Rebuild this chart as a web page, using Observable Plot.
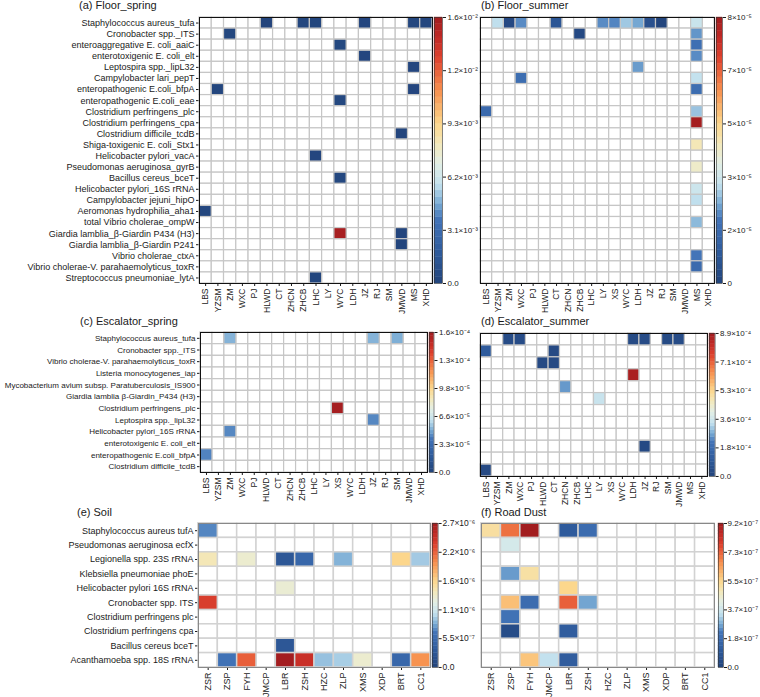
<!DOCTYPE html>
<html>
<head>
<meta charset="utf-8">
<script src="https://cdn.jsdelivr.net/npm/d3@7"></script>
<script src="https://cdn.jsdelivr.net/npm/@observablehq/plot@0.6"></script>
<style>
  body { margin: 0; background: white; }
  #chart { position: relative; width: 760px; height: 697px; overflow: hidden; background: white;
           font-family: "Liberation Sans", Arial, sans-serif; }
  #chart svg { position: absolute; }
  .ttl { position: absolute; font-size: 11px; line-height: 11px; color: #1a1a1a; white-space: nowrap; }
</style>
</head>
<body>
<div id="chart"></div>
<script>
// ---------- categories ----------
const floorRows = ["Staphylococcus aureus_tufa","Cronobacter spp._ITS","enteroaggregative E. coli_aaiC","enterotoxigenic E. coli_elt","Leptospira spp._lipL32","Campylobacter lari_pepT","enteropathogenic E.coli_bfpA","enteropathogenic E.coli_eae","Clostridium perfringens_plc","Clostridium perfringens_cpa","Clostridium difficile_tcdB","Shiga-toxigenic E. coli_Stx1","Helicobacter pylori_vacA","Pseudomonas aeruginosa_gyrB","Bacillus cereus_bceT","Helicobacter pylori_16S rRNA","Campylobacter jejuni_hipO","Aeromonas hydrophilia_aha1","total Vibrio cholerae_ompW","Giardia lamblia_β-Giardin P434 (H3)","Giardia lamblia_β-Giardin P241","Vibrio cholerae_ctxA","Vibrio cholerae-V. parahaemolyticus_toxR","Streptococcus pneumoniae_lytA"];
const escRows = ["Staphylococcus aureus_tufa","Cronobacter spp._ITS","Vibrio cholerae-V. parahaemolyticus_toxR","Listeria monocytogenes_iap","Mycobacterium avium subsp. Paratuberculosis_IS900","Giardia lamblia β-Giardin_P434 (H3)","Clostridium perfringens_plc","Leptospira spp._lipL32","Helicobacter pylori_16S rRNA","enterotoxigenic E. coli_elt","enteropathogenic E.coli_bfpA","Clostridium difficile_tcdB"];
const soilRows = ["Staphylococcus aureus tufA","Pseudomonas aeruginosa ecfX","Legionella spp. 23S rRNA","Klebsiella pneumoniae phoE","Helicobacter pylori 16S rRNA","Cronobacter spp. ITS","Clostridium perfringens plc","Clostridium perfringens cpa","Bacillus cereus bceT","Acanthamoeba spp. 18S rRNA"];

const floorSpringCols = ["LBS","YZSM","ZM","WXC","PJ","HLWD","CT","ZHCN","ZHCB","LHC","LY","WYC","LDH","JZ","RJ","SM","JMWD","MS","XHD"];
const floorSummerCols = ["LBS","YZSM","ZM","WXC","PJ","HLWD","CT","ZHCN","ZHCB","LHC","LY","XS","WYC","LDH","JZ","RJ","SM","JMWD","MS","XHD"];
const escSpringCols = ["LBS","YZSM","ZM","WXC","PJ","HLWD","CT","ZHCN","ZHCB","LHC","LY","XS","WYC","LDH","JZ","RJ","SM","JMWD","XHD"];
const escSummerCols = ["LBS","YZSM","ZM","WXC","PJ","HLWD","CT","ZHCN","ZHCB","LHC","LY","XS","WYC","LDH","JZ","RJ","SM","JMWD","MS","XHD"];
const siteCols = ["ZSR","ZSP","FYH","JMCP","LBR","ZSH","HZC","ZLP","XMS","XDP","BRT","CC1"];

// ---------- values [row, site, value] ----------
const floorSpring = [
  ["Staphylococcus aureus_tufa","HLWD",1.0e-4],["Staphylococcus aureus_tufa","ZHCB",2.0e-4],
  ["Staphylococcus aureus_tufa","LHC",2.0e-4],["Staphylococcus aureus_tufa","JZ",2.5e-4],
  ["Staphylococcus aureus_tufa","MS",3.0e-4],["Staphylococcus aureus_tufa","XHD",3.0e-4],
  ["Cronobacter spp._ITS","ZM",3.0e-4],
  ["enteroaggregative E. coli_aaiC","WYC",3.5e-4],
  ["enterotoxigenic E. coli_elt","JZ",2.5e-4],
  ["Leptospira spp._lipL32","MS",2.5e-4],
  ["enteropathogenic E.coli_bfpA","YZSM",2.0e-4],["enteropathogenic E.coli_bfpA","MS",2.5e-4],
  ["enteropathogenic E.coli_eae","WYC",3.5e-4],
  ["Clostridium difficile_tcdB","JMWD",1.5e-4],
  ["Helicobacter pylori_vacA","LHC",2.5e-4],
  ["Bacillus cereus_bceT","WYC",3.5e-4],
  ["Aeromonas hydrophilia_aha1","LBS",3.0e-4],
  ["Giardia lamblia_β-Giardin P434 (H3)","WYC",1.52e-2],["Giardia lamblia_β-Giardin P434 (H3)","JMWD",1.5e-4],
  ["Giardia lamblia_β-Giardin P241","JMWD",1.5e-4],
  ["Streptococcus pneumoniae_lytA","LHC",2.0e-4]
];
const floorSummer = [
  ["Staphylococcus aureus_tufa","YZSM",3.05e-5],["Staphylococcus aureus_tufa","ZM",2.5e-6],
  ["Staphylococcus aureus_tufa","WXC",2.2e-5],["Staphylococcus aureus_tufa","CT",8.0e-6],
  ["Staphylococcus aureus_tufa","LY",2.2e-5],["Staphylococcus aureus_tufa","XS",2.15e-5],
  ["Staphylococcus aureus_tufa","WYC",2.8e-5],["Staphylococcus aureus_tufa","LDH",2.45e-5],
  ["Staphylococcus aureus_tufa","JZ",6.0e-6],["Staphylococcus aureus_tufa","RJ",1.0e-6],
  ["Staphylococcus aureus_tufa","MS",3.2e-5],
  ["Cronobacter spp._ITS","ZHCB",2.5e-6],["Cronobacter spp._ITS","MS",2.3e-5],
  ["enteroaggregative E. coli_aaiC","MS",1.8e-5],
  ["enterotoxigenic E. coli_elt","MS",2.2e-5],
  ["Leptospira spp._lipL32","LDH",2.35e-5],
  ["Campylobacter lari_pepT","WXC",1.75e-5],["Campylobacter lari_pepT","MS",3.1e-5],
  ["enteropathogenic E.coli_bfpA","MS",1.75e-5],
  ["Clostridium perfringens_plc","LBS",1.6e-5],["Clostridium perfringens_plc","MS",2.75e-5],
  ["Clostridium perfringens_cpa","MS",8.2e-5],
  ["Shiga-toxigenic E. coli_Stx1","MS",4.4e-5],
  ["Pseudomonas aeruginosa_gyrB","MS",4.15e-5],
  ["Helicobacter pylori_16S rRNA","MS",3.25e-5],
  ["Campylobacter jejuni_hipO","MS",3.05e-5],
  ["total Vibrio cholerae_ompW","MS",2.65e-5],
  ["Vibrio cholerae_ctxA","MS",2.0e-5],
  ["Vibrio cholerae-V. parahaemolyticus_toxR","MS",1.65e-5]
];
const escSpring = [
  ["Staphylococcus aureus_tufa","ZM",5.1e-5],["Staphylococcus aureus_tufa","JZ",5.1e-5],
  ["Staphylococcus aureus_tufa","SM",5.0e-5],
  ["Clostridium perfringens_plc","XS",1.62e-4],
  ["Leptospira spp._lipL32","JZ",4.3e-5],
  ["Helicobacter pylori_16S rRNA","ZM",4.3e-5],
  ["enteropathogenic E.coli_bfpA","LBS",4.2e-5]
];
const escSummer = [
  ["Staphylococcus aureus_tufa","ZM",4.0e-5],["Staphylococcus aureus_tufa","WXC",4.0e-5],
  ["Staphylococcus aureus_tufa","LDH",3.5e-5],["Staphylococcus aureus_tufa","JZ",4.0e-5],
  ["Staphylococcus aureus_tufa","SM",3.5e-5],["Staphylococcus aureus_tufa","JMWD",4.0e-5],
  ["Cronobacter spp._ITS","LBS",1.07e-4],["Cronobacter spp._ITS","CT",3.0e-5],
  ["Vibrio cholerae-V. parahaemolyticus_toxR","HLWD",3.0e-5],["Vibrio cholerae-V. parahaemolyticus_toxR","CT",3.0e-5],
  ["Listeria monocytogenes_iap","LDH",8.7e-4],
  ["Mycobacterium avium subsp. Paratuberculosis_IS900","ZHCN",2.5e-4],
  ["Giardia lamblia β-Giardin_P434 (H3)","LY",3.4e-4],
  ["enterotoxigenic E. coli_elt","JZ",3.0e-5],
  ["Clostridium difficile_tcdB","LBS",3.0e-5]
];
const soil = [
  ["Staphylococcus aureus tufA","ZSR",7.1e-7],
  ["Legionella spp. 23S rRNA","ZSR",1.45e-6],["Legionella spp. 23S rRNA","FYH",1.34e-6],
  ["Legionella spp. 23S rRNA","LBR",2.7e-7],["Legionella spp. 23S rRNA","ZSH",4.9e-7],
  ["Legionella spp. 23S rRNA","ZLP",8.5e-7],["Legionella spp. 23S rRNA","BRT",1.64e-6],
  ["Legionella spp. 23S rRNA","CC1",9.3e-7],
  ["Helicobacter pylori 16S rRNA","LBR",1.32e-6],
  ["Cronobacter spp. ITS","ZSR",2.36e-6],
  ["Bacillus cereus bceT","LBR",2.7e-7],
  ["Acanthamoeba spp. 18S rRNA","ZSP",6.3e-7],["Acanthamoeba spp. 18S rRNA","FYH",2.19e-6],
  ["Acanthamoeba spp. 18S rRNA","LBR",2.72e-6],["Acanthamoeba spp. 18S rRNA","ZSH",2.47e-6],
  ["Acanthamoeba spp. 18S rRNA","HZC",9.0e-7],["Acanthamoeba spp. 18S rRNA","ZLP",9.45e-7],
  ["Acanthamoeba spp. 18S rRNA","XMS",1.34e-6],["Acanthamoeba spp. 18S rRNA","BRT",4.9e-7],
  ["Acanthamoeba spp. 18S rRNA","CC1",1.97e-6]
];
const roadDust = [
  ["Staphylococcus aureus tufA","ZSR",5.2e-7],["Staphylococcus aureus tufA","ZSP",7.1e-7],
  ["Staphylococcus aureus tufA","FYH",9.15e-7],["Staphylococcus aureus tufA","LBR",1.1e-7],
  ["Staphylococcus aureus tufA","ZSH",1.85e-7],
  ["Pseudomonas aeruginosa ecfX","ZSP",3.8e-7],
  ["Klebsiella pneumoniae phoE","ZSP",2.6e-7],["Klebsiella pneumoniae phoE","FYH",5.15e-7],
  ["Helicobacter pylori 16S rRNA","LBR",5.5e-7],
  ["Cronobacter spp. ITS","ZSP",5.9e-7],["Cronobacter spp. ITS","FYH",1.85e-7],
  ["Cronobacter spp. ITS","LBR",7.35e-7],["Cronobacter spp. ITS","ZSH",2.7e-7],
  ["Clostridium perfringens plc","ZSP",2.1e-7],
  ["Clostridium perfringens cpa","ZSP",4.6e-8],["Clostridium perfringens cpa","LBR",1.2e-7],
  ["Acanthamoeba spp. 18S rRNA","FYH",5.8e-7],["Acanthamoeba spp. 18S rRNA","JMCP",3.4e-7],
  ["Acanthamoeba spp. 18S rRNA","LBR",1.2e-7]
];

// ---------- colour-bar maxima and tick labels ----------
const floorSpringMax = 1.55e-2;
const floorSpringTicks = ["0.0","3.1×10⁻³","6.2×10⁻³","9.3×10⁻³","1.2×10⁻²","1.6×10⁻²"];
const floorSummerMax = 8.3e-5;
const floorSummerTicks = ["0","2×10⁻⁵","3×10⁻⁵","5×10⁻⁵","7×10⁻⁵","8×10⁻⁵"];
const escSpringMax = 1.64e-4;
const escSpringTicks = ["0.0","3.3×10⁻⁵","6.6×10⁻⁵","9.8×10⁻⁵","1.3×10⁻⁴","1.6×10⁻⁴"];
const escSummerMax = 8.9e-4;
const escSummerTicks = ["0.0","1.8×10⁻⁴","3.6×10⁻⁴","5.3×10⁻⁴","7.1×10⁻⁴","8.9×10⁻⁴"];
const soilMax = 2.74e-6;
const soilTicks = ["0.0","5.5×10⁻⁷","1.1×10⁻⁶","1.6×10⁻⁶","2.2×10⁻⁶","2.7×10⁻⁶"];
const roadMax = 9.2e-7;
const roadTicks = ["0.0","1.8×10⁻⁷","3.7×10⁻⁷","5.5×10⁻⁷","7.3×10⁻⁷","9.2×10⁻⁷"];

// ---------- palette ----------
const ramp = d3.scaleLinear()
  .domain([0, .12, .24, .30, .37, .45, .52, .60, .72, .84, .92, 1])
  .range(["#22437a","#2f5b9c","#4274b8","#79abd4","#c3e1ee","#e3efe6","#f3e9bd","#fcd68b","#f7924f","#e0452f","#c22a26","#a01c1f"])
  .interpolate(d3.interpolateRgb).clamp(true);

const chart = document.getElementById("chart");
const FONT = "'Liberation Sans', Arial, sans-serif";

function place(svg, left, top) {
  svg.style.left = left + "px";
  svg.style.top = top + "px";
  chart.appendChild(svg);
}

function title(text, x, baseline) {
  const d = document.createElement("div");
  d.className = "ttl";
  d.textContent = text;
  d.style.left = x + "px";
  d.style.top = (baseline - 9.3) + "px";
  chart.appendChild(d);
}

function heatmap(o) {
  const all = o.rows.flatMap(r => o.cols.map(c => ({r, c})));
  const data = o.cells.map(([r, c, v]) => ({r, c, v}));
  const left = o.showY ? 0 : o.L - 10;
  const svg = Plot.plot({
    width: o.R - left + 3, height: (o.B - o.T) + 2 + 50,
    marginLeft: o.L - left, marginRight: 3, marginTop: 2, marginBottom: 50,
    style: {fontFamily: FONT, fontSize: o.yFont + "px", background: "none", color: "#1a1a1a", overflow: "visible"},
    x: {domain: o.cols, padding: 0, round: false, tickRotate: -90, tickSize: 3, tickPadding: 2, label: null},
    y: {domain: o.rows, padding: 0, round: false, tickSize: 3, tickPadding: 2, label: null, axis: o.showY ? "left" : null},
    color: {type: "linear", domain: [0, o.max], interpolate: ramp},
    marks: [
      Plot.cell(all, {x: "c", y: "r", fill: "white", stroke: o.grid, strokeWidth: o.gridW}),
      Plot.cell(data, {x: "c", y: "r", fill: "v", stroke: o.grid, strokeWidth: o.gridW}),
      Plot.frame({stroke: o.frame, strokeWidth: 1})
    ]
  });
  svg.querySelectorAll('g[aria-label^="x-axis"] text').forEach(t => t.style.fontSize = o.xFont + "px");
  place(svg, left, o.T - 2);
}

function colorbar(o) {
  const n = 40;
  const bands = d3.range(n).map(i => ({x1: 0, x2: 1, y1: i * o.max / n, y2: (i + 1) * o.max / n, v: (i + 0.5) * o.max / n}));
  const k = o.labels.length - 1;
  const tickVals = o.labels.map((_, i) => o.max * i / k);
  const svg = Plot.plot({
    width: (o.R - o.L) + 1 + 50, height: (o.B - o.T) + 14,
    marginLeft: 1, marginRight: 50, marginTop: 7, marginBottom: 7,
    style: {fontFamily: FONT, fontSize: o.font + "px", background: "none", color: "#1a1a1a", overflow: "visible"},
    x: {domain: [0, 1], axis: null},
    y: {domain: [0, o.max], axis: "right", ticks: tickVals, tickFormat: d => o.labels[Math.round(d / o.max * k)], tickSize: 3, tickPadding: o.pad, label: null},
    color: {type: "linear", domain: [0, o.max], interpolate: ramp},
    marks: [
      Plot.rect(bands, {x1: "x1", x2: "x2", y1: "y1", y2: "y2", fill: "v", stroke: "v", strokeWidth: 0.4}),
      Plot.frame({stroke: "#333", strokeWidth: 0.6})
    ]
  });
  place(svg, o.L - 1, o.T - 7);
}

const gridTop = "#c6c6c6", gridBottom = "#d2d2d2";

// (a)
title("(a) Floor_spring", 79, 9);
heatmap({rows: floorRows, cols: floorSpringCols, cells: floorSpring, max: floorSpringMax,
  L: 199, R: 432, T: 17, B: 283, showY: true, yFont: 9, xFont: 8.5, grid: gridTop, gridW: 1.2, frame: "#111"});
colorbar({L: 433.5, R: 441.5, T: 17, B: 283, max: floorSpringMax, labels: floorSpringTicks, font: 8, pad: 2});

// (b)
title("(b) Floor_summer", 481, 9);
heatmap({rows: floorRows, cols: floorSummerCols, cells: floorSummer, max: floorSummerMax,
  L: 480, R: 714, T: 17, B: 283, showY: false, yFont: 9, xFont: 8.5, grid: gridTop, gridW: 1.2, frame: "#111"});
colorbar({L: 716, R: 722, T: 17, B: 283, max: floorSummerMax, labels: floorSummerTicks, font: 8, pad: 2});

// (c)
title("(c) Escalator_spring", 80, 325);
heatmap({rows: escRows, cols: escSpringCols, cells: escSpring, max: escSpringMax,
  L: 200, R: 427, T: 332, B: 472, showY: true, yFont: 8, xFont: 8.5, grid: gridTop, gridW: 1.2, frame: "#111"});
colorbar({L: 429, R: 433.5, T: 332, B: 472, max: escSpringMax, labels: escSpringTicks, font: 8, pad: 2});

// (d)
title("(d) Escalator_summer", 481, 325);
heatmap({rows: escRows, cols: escSummerCols, cells: escSummer, max: escSummerMax,
  L: 480, R: 707, T: 333, B: 476, showY: false, yFont: 8, xFont: 8.5, grid: gridTop, gridW: 1.2, frame: "#111"});
colorbar({L: 708.7, R: 714.3, T: 333, B: 476, max: escSummerMax, labels: escSummerTicks, font: 8, pad: 2});

// (e)
title("(e) Soil", 77, 516);
heatmap({rows: soilRows, cols: siteCols, cells: soil, max: soilMax,
  L: 198, R: 430, T: 523, B: 667, showY: true, yFont: 9, xFont: 9, grid: gridBottom, gridW: 1.5, frame: "#888"});
colorbar({L: 431.7, R: 437.3, T: 523, B: 667, max: soilMax, labels: soilTicks, font: 8.5, pad: 1.5});

// (f)
title("(f) Road Dust", 481, 516);
heatmap({rows: soilRows, cols: siteCols, cells: roadDust, max: roadMax,
  L: 481, R: 714, T: 523, B: 667, showY: false, yFont: 9, xFont: 9, grid: gridBottom, gridW: 1.5, frame: "#888"});
colorbar({L: 717.7, R: 722.7, T: 523, B: 667, max: roadMax, labels: roadTicks, font: 8, pad: 1});
</script>
</body>
</html>
